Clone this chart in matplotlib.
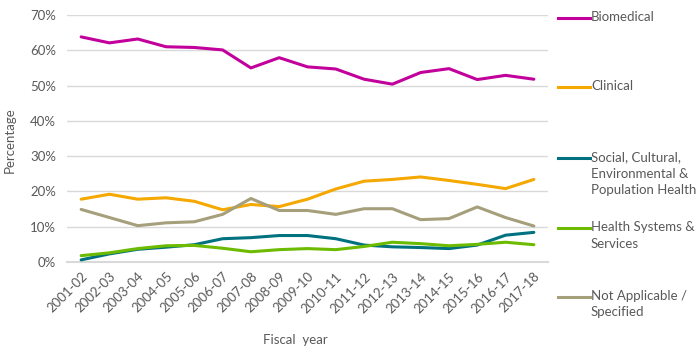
import numpy as np
import matplotlib
matplotlib.use("Agg")
import matplotlib.pyplot as plt
from matplotlib.lines import Line2D

plt.rcParams['font.family'] = ['Lato', 'DejaVu Sans']

years = ["2001-02", "2002-03", "2003-04", "2004-05", "2005-06", "2006-07",
         "2007-08", "2008-09", "2009-10", "2010-11", "2011-12", "2012-13",
         "2013-14", "2014-15", "2015-16", "2016-17", "2017-18"]

biomedical = [63.8, 62.1, 63.2, 61.0, 60.8, 60.1, 55.0, 57.9, 55.3, 54.7,
              51.8, 50.4, 53.7, 54.8, 51.7, 52.9, 51.8]
clinical = [17.8, 19.2, 17.8, 18.2, 17.2, 14.8, 16.3, 15.7, 17.8, 20.7,
            22.9, 23.4, 24.1, 23.1, 22.0, 20.8, 23.4]
social = [0.6, 2.3, 3.6, 4.2, 4.9, 6.6, 6.9, 7.5, 7.5, 6.6,
          4.8, 4.3, 4.1, 3.8, 4.8, 7.6, 8.4]
health_sys = [1.8, 2.6, 3.8, 4.6, 4.7, 3.9, 2.9, 3.5, 3.8, 3.5,
              4.4, 5.6, 5.2, 4.6, 5.0, 5.6, 4.9]
not_applicable = [14.9, 12.6, 10.3, 11.1, 11.4, 13.5, 18.0, 14.6, 14.6, 13.5,
                  15.1, 15.1, 12.0, 12.3, 15.6, 12.6, 10.2]

labels = ["Biomedical", "Clinical",
          "Social, Cultural,\nEnvironmental &\nPopulation Health",
          "Health Systems &\nServices", "Not Applicable /\nSpecified"]
series = [biomedical, clinical, social, health_sys, not_applicable]
colors = ["#C2009C", "#F4A800", "#00727F", "#6CBB00", "#A59F7C"]

grey = "#595959"
fs = 9.5

fig = plt.figure(figsize=(7, 3.5), dpi=100)
ax = fig.add_axes([67 / 700, 1 - 262 / 350, (548 - 67) / 700, (262 - 15) / 350])

x = np.arange(len(years))
for vals, c in zip(series, colors):
    ax.plot(x, vals, color=c, lw=2.2, solid_capstyle='round', zorder=3)

ax.set_xlim(-0.5, len(years) - 0.5)
ax.set_ylim(0, 70)
ax.set_yticks(np.arange(0, 71, 10))
ax.set_yticklabels([f"{v}%" for v in range(0, 71, 10)])
ax.yaxis.grid(True, color="#D9D9D9", lw=1)
ax.set_axisbelow(True)
for s in ["top", "right", "left"]:
    ax.spines[s].set_visible(False)
ax.spines["bottom"].set_color("#D9D9D9")
ax.spines["bottom"].set_linewidth(1.5)
ax.tick_params(length=0, colors=grey, labelsize=fs)
ax.tick_params(axis='y', pad=8)
ax.set_xticks(x)
ax.set_xticklabels(years, rotation=45, ha='right', rotation_mode='anchor')
ax.tick_params(axis='x', pad=6)

fig.text(295 / 700, 1 - 340 / 350, "Fiscal  year", ha='center', va='center',
         color=grey, fontsize=fs)
fig.text(10 / 700, 1 - 140 / 350, "Percentage", ha='center', va='center',
         rotation=90, color=grey, fontsize=fs)

# legend on the right
leg_y = [18, 87, 158, 228, 297]
for lab, c, yy in zip(labels, colors, leg_y):
    yf = 1 - yy / 350
    fig.add_artist(Line2D([558 / 700, 590 / 700], [yf, yf], color=c, lw=2.2,
                          transform=fig.transFigure))
    fig.text(591 / 700, 1 - (yy - 7) / 350, lab, ha='left', va='top',
             color=grey, fontsize=fs, linespacing=1.45)

fig.savefig("out.png", dpi=100)
